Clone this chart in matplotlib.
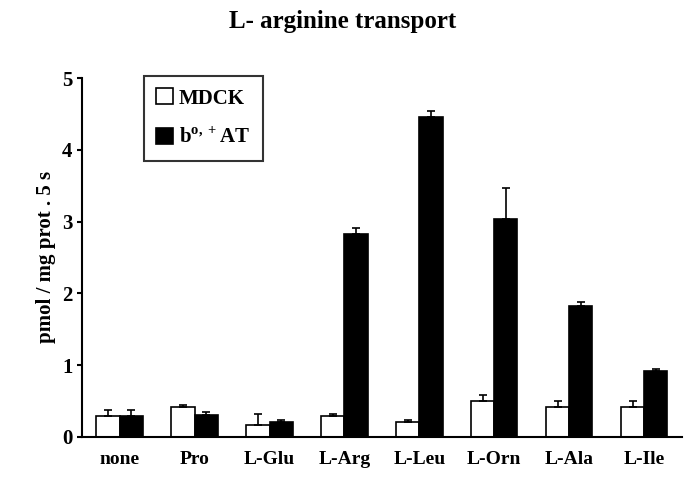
import matplotlib
matplotlib.use("Agg")
import matplotlib.pyplot as plt
import numpy as np

plt.rcParams['font.family'] = ['Liberation Serif', 'DejaVu Serif']
plt.rcParams['font.weight'] = 'bold'
plt.rcParams['mathtext.fontset'] = 'custom'
plt.rcParams['mathtext.rm'] = 'Liberation Serif:bold'
plt.rcParams['mathtext.bf'] = 'Liberation Serif:bold'

categories = ['none', 'Pro', 'L-Glu', 'L-Arg', 'L-Leu', 'L-Orn', 'L-Ala', 'L-Ile']
mdck = [0.29, 0.42, 0.17, 0.29, 0.20, 0.50, 0.42, 0.42]
mdck_err = [0.08, 0.02, 0.15, 0.03, 0.04, 0.08, 0.08, 0.08]
bat = [0.29, 0.30, 0.20, 2.83, 4.46, 3.04, 1.82, 0.91]
bat_err = [0.09, 0.04, 0.03, 0.08, 0.08, 0.43, 0.06, 0.04]

fig = plt.figure(figsize=(6.85, 4.88), dpi=100)
ax = fig.add_axes([0.12, 0.105, 0.875, 0.735])

x = np.arange(len(categories))
w = 0.31
ax.bar(x - w/2, mdck, w, color='white', edgecolor='black', linewidth=1.2,
       yerr=[np.zeros(len(mdck)), mdck_err], capsize=3, error_kw=dict(elinewidth=1.2, capthick=1.2),
       label='MDCK')
ax.bar(x + w/2, bat, w, color='black', edgecolor='black', linewidth=1.2,
       yerr=[np.zeros(len(bat)), bat_err], capsize=3, error_kw=dict(elinewidth=1.2, capthick=1.2),
       label='b$^{\\mathrm{o,+}}$AT')

ax.set_xlim(-0.5, len(categories) - 0.5)
ax.set_ylim(0, 5)
ax.set_yticks(range(6))
ax.set_xticks(x)
ax.set_xticklabels(categories, fontsize=14, fontweight='bold')
ax.tick_params(axis='y', labelsize=15, direction='out', width=1.5)
ax.tick_params(axis='x', length=0, pad=10)
for t in ax.get_yticklabels():
    t.set_fontweight('bold')
for s in ['top', 'right']:
    ax.spines[s].set_visible(False)
for s in ['left', 'bottom']:
    ax.spines[s].set_linewidth(1.5)

ax.set_ylabel('pmol / mg prot . 5 s', fontsize=15, fontweight='bold')
fig.suptitle('L- arginine transport', fontsize=18, fontweight='bold', y=0.98)

leg = ax.legend(loc='upper left', bbox_to_anchor=(0.085, 1.035), fontsize=15, frameon=True,
                fancybox=False, edgecolor='black', handlelength=0.8, handleheight=0.8,
                handletextpad=0.3, borderpad=0.6, labelspacing=0.9)
leg.get_frame().set_linewidth(1.5)

fig.savefig('out.png', dpi=100)
